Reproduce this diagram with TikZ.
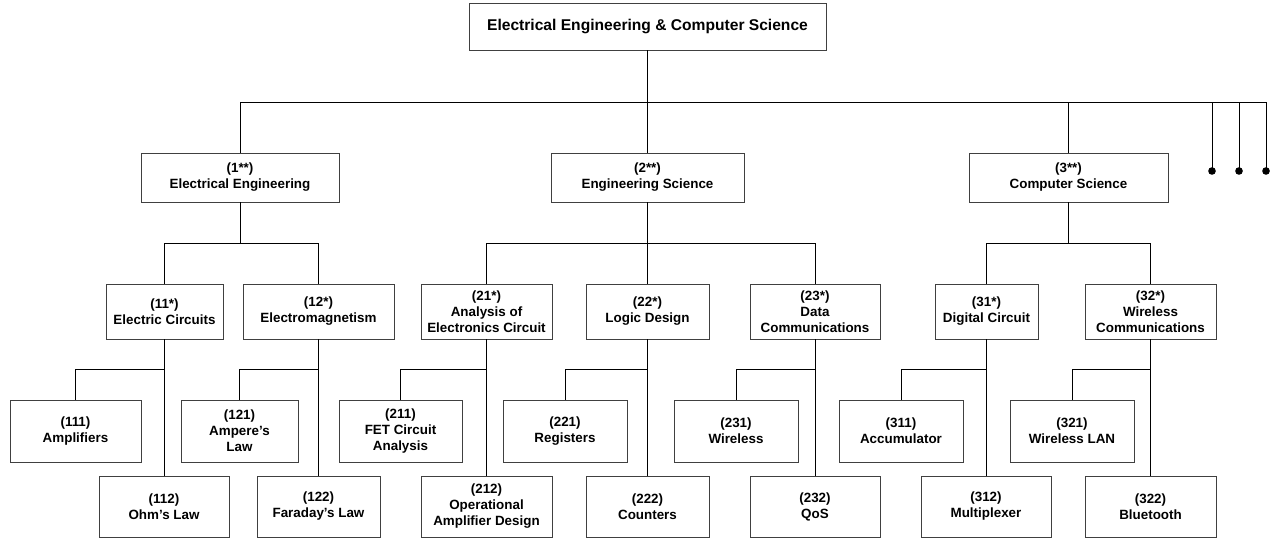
\documentclass[tikz,border=0pt]{standalone}
\usepackage{fontspec}
\setmainfont{Liberation Sans}
\tikzset{
  box/.style={draw=black!75, line width=0.9pt, fill=white, inner sep=0pt, align=center,
    font=\bfseries\fontsize{13.4}{16}\selectfont},
  rootbox/.style={box, font=\bfseries\fontsize{15.6}{18}\selectfont},
  conn/.style={draw=black, line width=0.9pt},
  dot/.style={fill=black},
}
\newcommand\bx[6][box]{%
  \node[#1, minimum width={(#4-#2)*1pt}, minimum height={(#6-#5)*1pt}] at ({(#2+#4)/2},{(#5+#6)/2})}
\begin{document}
\begin{tikzpicture}[x=1pt,y=-1pt]
\useasboundingbox (0,0) rectangle (1270,538);
% root
\bx[rootbox]{469}{0}{826}{3}{50} (root) {Electrical Engineering \& Computer Science};
% level 1
\bx{141}{0}{339}{153}{202} (a1) {(1**)\\Electrical Engineering};
\bx{551}{0}{744}{153}{202} (a2) {(2**)\\Engineering Science};
\bx{969}{0}{1168}{153}{202} (a3) {(3**)\\Computer Science};
% level 2
\bx{106}{0}{223}{284}{339} (b11) {(11*)\\Electric Circuits};
\bx{243}{0}{394}{284}{339} (b12) {(12*)\\Electromagnetism};
\bx{421}{0}{552}{284}{339} (b21) {(21*)\\Analysis of\\Electronics Circuit};
\bx{586}{0}{709}{284}{339} (b22) {(22*)\\Logic Design};
\bx{750}{0}{880}{284}{339} (b23) {(23*)\\Data\\Communications};
\bx{935}{0}{1038}{284}{339} (b31) {(31*)\\Digital Circuit};
\bx{1085}{0}{1216}{284}{339} (b32) {(32*)\\Wireless\\Communications};
% level 3, upper row
\bx{10}{0}{141}{400}{462} (c111) {(111)\\Amplifiers};
\bx{181}{0}{298}{400}{462} (c121) {(121)\\Ampere’s\\Law};
\bx{339}{0}{462}{400}{462} (c211) {(211)\\FET Circuit\\Analysis};
\bx{503}{0}{627}{400}{462} (c221) {(221)\\Registers};
\bx{674}{0}{798}{400}{462} (c231) {(231)\\Wireless};
\bx{839}{0}{963}{400}{462} (c311) {(311)\\Accumulator};
\bx{1010}{0}{1134}{400}{462} (c321) {(321)\\Wireless LAN};
% level 3, lower row
\bx{99}{0}{229}{476}{537} (c112) {(112)\\Ohm’s Law};
\bx{257}{0}{380}{476}{537} (c122) {(122)\\Faraday’s Law};
\bx{421}{0}{552}{476}{537} (c212) {(212)\\Operational\\Amplifier Design};
\bx{586}{0}{709}{476}{537} (c222) {(222)\\Counters};
\bx{750}{0}{880}{476}{537} (c232) {(232)\\QoS};
\bx{921}{0}{1051}{476}{537} (c312) {(312)\\Multiplexer};
\bx{1085}{0}{1216}{476}{537} (c322) {(322)\\Bluetooth};
% helper coordinates
\coordinate (bar) at (0,102);
\coordinate (mid) at (0,243);
\coordinate (low) at (0,369);
\coordinate (d1) at (1212,171);
\coordinate (d2) at (1239,171);
\coordinate (d3) at (1266,171);
% root connectors
\draw[conn] (root.south) -- (root.south |- a2.north);
\draw[conn] (a1.north) |- (d3 |- bar) -- (d3);
\draw[conn] (a3.north) -- (a3.north |- bar);
\draw[conn] (d1 |- bar) -- (d1);
\draw[conn] (d2 |- bar) -- (d2);
\fill[dot] (d1) circle (3.8);
\fill[dot] (d2) circle (3.8);
\fill[dot] (d3) circle (3.8);
% level 1 -> level 2
\draw[conn] (a1.south) -- (a1.south |- mid);
\draw[conn] (b11.north) |- (b12.north |- mid) -- (b12.north);
\draw[conn] (a2.south) -- (a2.south |- b22.north);
\draw[conn] (b21.north) |- (b23.north |- mid) -- (b23.north);
\draw[conn] (a3.south) -- (a3.south |- mid);
\draw[conn] (b31.north) |- (b32.north |- mid) -- (b32.north);
% level 2 -> level 3
\draw[conn] (b11.south) -- (b11.south |- c112.north);
\draw[conn] (c111.north) |- (b11.south |- low);
\draw[conn] (b12.south) -- (b12.south |- c122.north);
\draw[conn] (c121.north) |- (b12.south |- low);
\draw[conn] (b21.south) -- (b21.south |- c212.north);
\draw[conn] (c211.north) |- (b21.south |- low);
\draw[conn] (b22.south) -- (b22.south |- c222.north);
\draw[conn] (c221.north) |- (b22.south |- low);
\draw[conn] (b23.south) -- (b23.south |- c232.north);
\draw[conn] (c231.north) |- (b23.south |- low);
\draw[conn] (b31.south) -- (b31.south |- c312.north);
\draw[conn] (c311.north) |- (b31.south |- low);
\draw[conn] (b32.south) -- (b32.south |- c322.north);
\draw[conn] (c321.north) |- (b32.south |- low);
\end{tikzpicture}
\end{document}
